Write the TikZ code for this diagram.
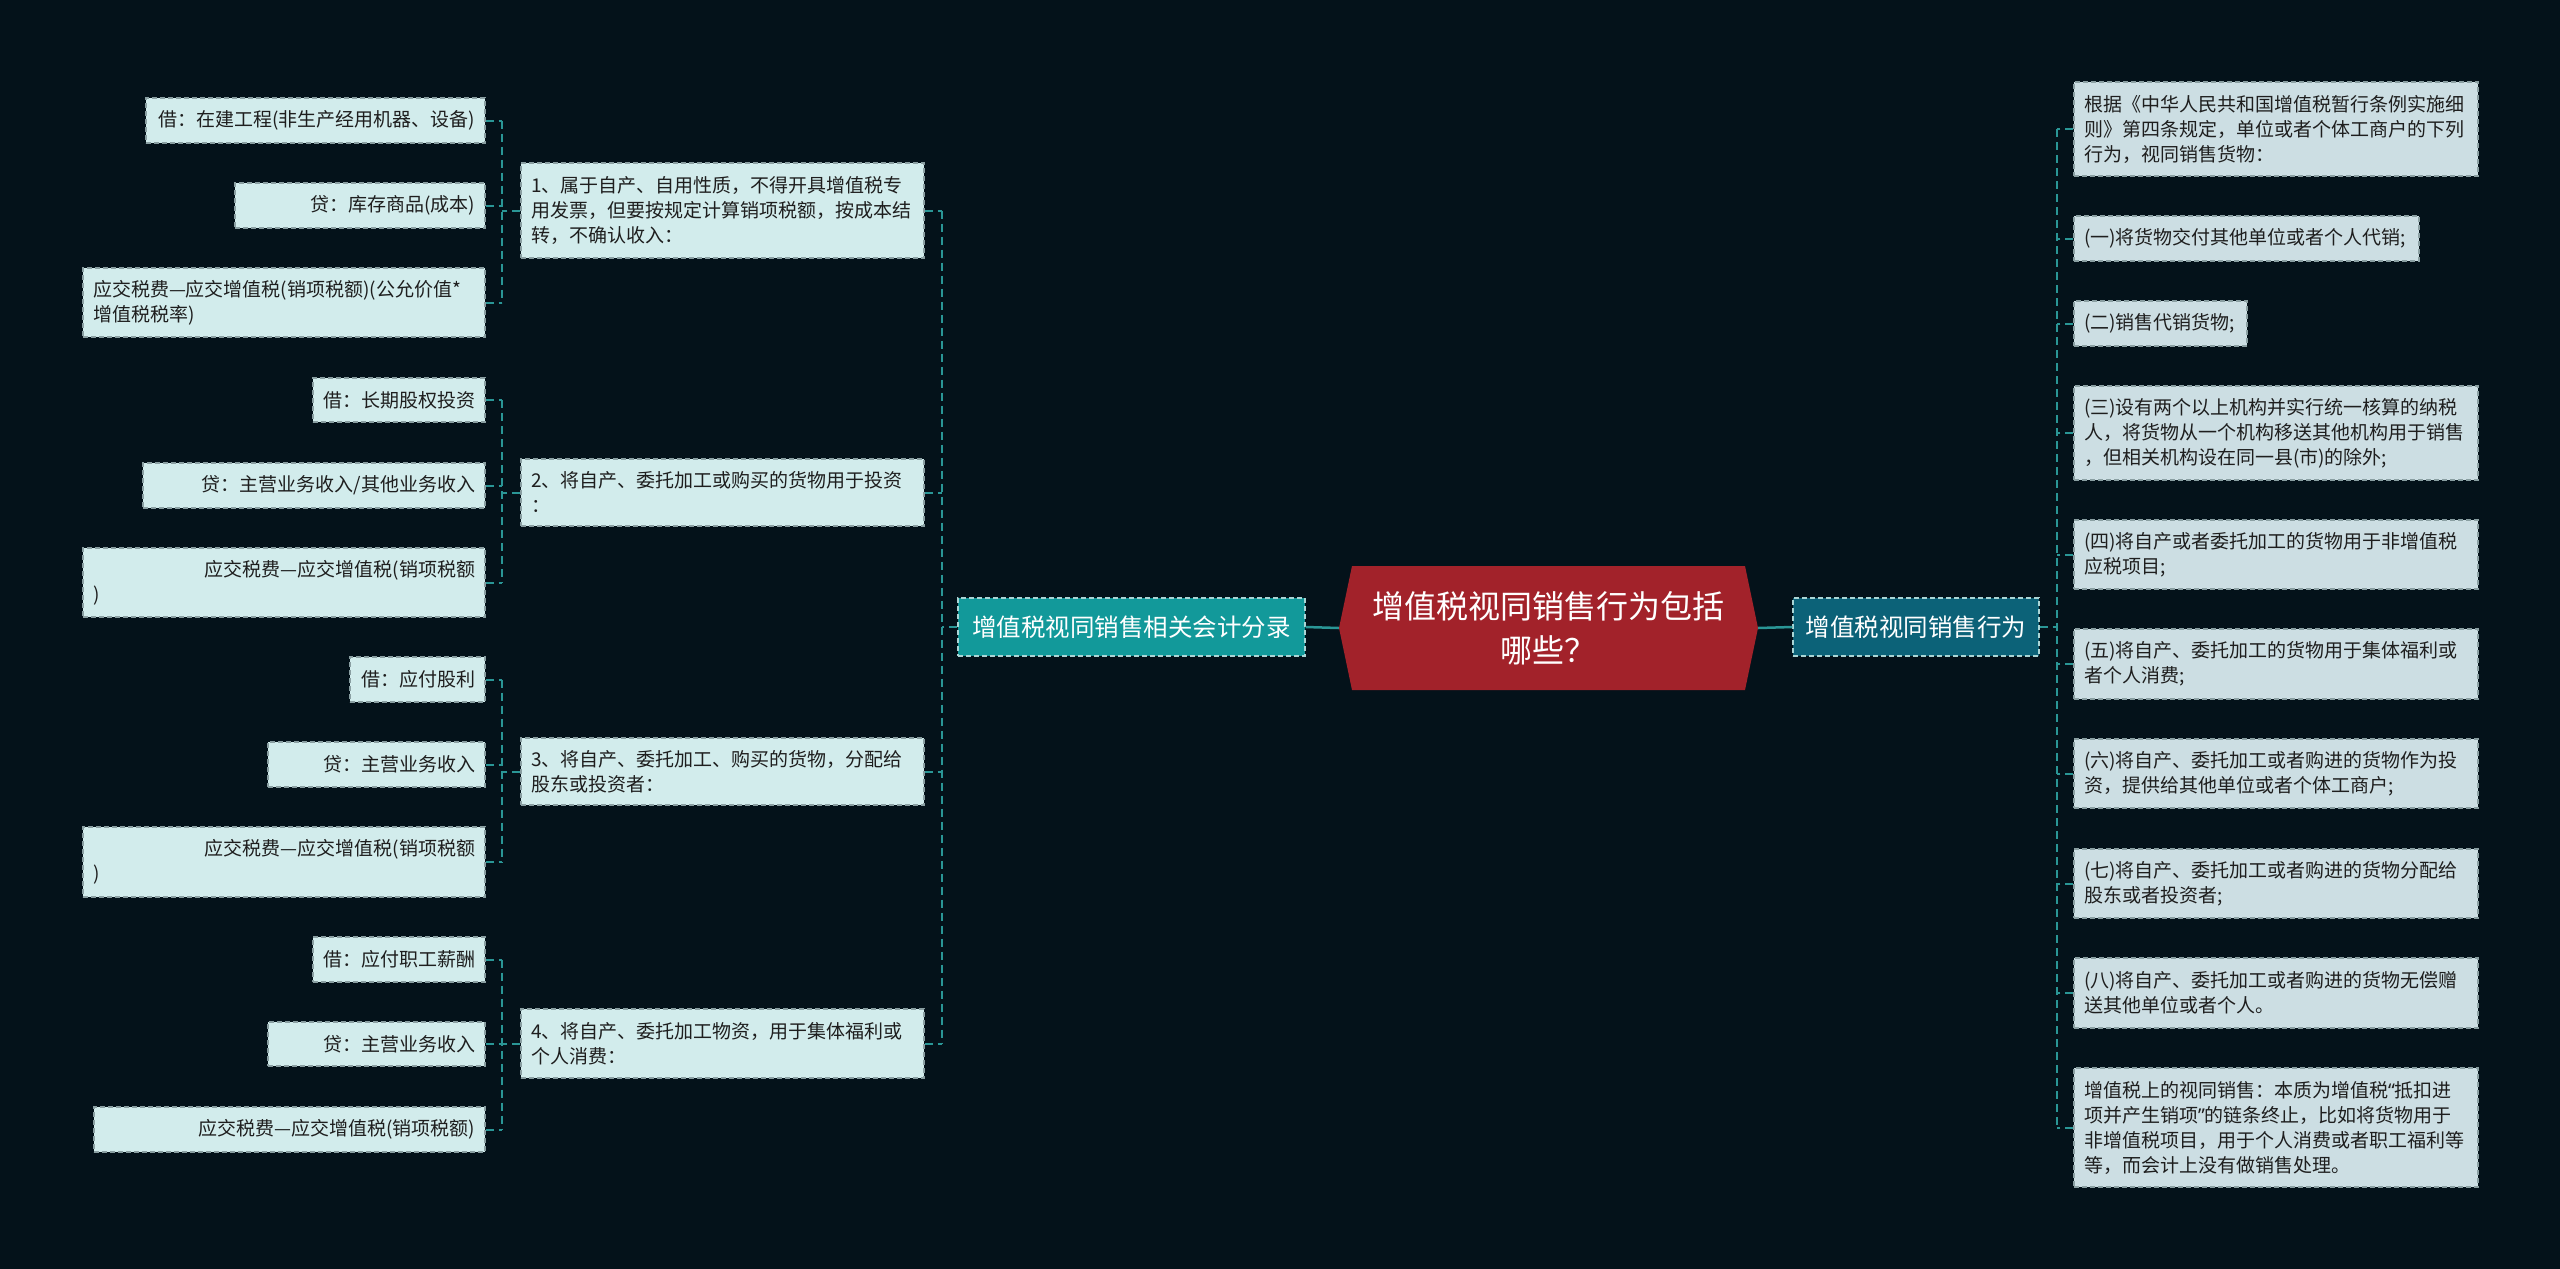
\documentclass[tikz,border=0pt]{standalone}
\usepackage{fontspec}
\setmainfont{Noto Sans CJK SC}
\newfontfamily\qf{Noto Sans}
\setlength{\parindent}{0pt}
\definecolor{bgc}{HTML}{04121A}
\definecolor{linec}{HTML}{2A9696}
\definecolor{leafc}{HTML}{D2ECEC}
\definecolor{rleafc}{HTML}{CCDEE3}
\definecolor{borderc}{HTML}{8A9FA2}
\definecolor{txtc}{HTML}{1E1E1E}
\definecolor{redc}{HTML}{A2222A}
\definecolor{lmainc}{HTML}{12999A}
\definecolor{rmainc}{HTML}{0C6278}
\newcommand\mybox[7]{%
 \pgfmathsetmacro\mywd{#5-#3-20}\pgfmathsetmacro\myht{#6-#4}%
 \pgfmathsetmacro\myxx{(#3+#5)/2}\pgfmathsetmacro\myyy{(#4+#6)/2}%
 \node[#2, text width=\mywd pt, minimum height=\myht pt] (#1) at (\myxx,\myyy) {#7};}
\tikzset{
 basebox/.style={draw=borderc, dashed, dash pattern=on 5pt off 3pt, line width=1.3pt, inner xsep=10pt, inner ysep=0pt, text=txtc, font=\fontsize{19}{25}\selectfont},
 leafbox/.style={basebox, fill=leafc, align=right},
 leafleft/.style={basebox, fill=leafc, align=left},
 groupbox/.style={basebox, fill=leafc, align=left},
 rbox/.style={basebox, fill=rleafc, align=left},
 conn/.style={draw=linec, line width=2pt, dash pattern=on 8pt off 5pt},
 solidconn/.style={draw=linec, line width=2.5pt},
 mainbox/.style={draw=white!60!linec, dashed, dash pattern=on 5pt off 3pt, line width=1.3pt, text=white, inner sep=0pt, font=\fontsize{24.5}{30}\selectfont, align=center}
}
\begin{document}
\begin{tikzpicture}[x=1pt,y=-1pt]
\useasboundingbox (0,0) rectangle (2560,1269);
\fill[bgc] (0,0) rectangle (2560,1269);
% center
\fill[redc] (1339,628) -- (1352,566) -- (1745,566) -- (1758,628) -- (1745,690) -- (1352,690) -- cycle;
\node[text=white, align=center, minimum width=419pt, minimum height=124pt, inner sep=0pt, font=\fontsize{32}{44}\selectfont] (center) at (1548.5,628) {增值税视同销售行为包括\\哪些？};
% main nodes
\node[mainbox, fill=lmainc, minimum width=347pt, minimum height=58pt] (lmain) at (1131.5,627) {增值税视同销售相关会计分录};
\node[mainbox, fill=rmainc, minimum width=246pt, minimum height=58pt] (rmain) at (1916,627) {增值税视同销售行为};
% groups
\mybox{g1}{groupbox}{521}{163}{924}{258}{1、属于自产、自用性质，不得开具增值税专\\用发票，但要按规定计算销项税额，按成本结\\转，不确认收入：}
\mybox{g2}{groupbox}{521}{459}{924}{526}{2、将自产、委托加工或购买的货物用于投资\\：}
\mybox{g3}{groupbox}{521}{738}{924}{805}{3、将自产、委托加工、购买的货物，分配给\\股东或投资者：}
\mybox{g4}{groupbox}{521}{1009}{924}{1078}{4、将自产、委托加工物资，用于集体福利或\\个人消费：}
% leaves
\mybox{l1a}{leafbox}{146}{98}{485}{143}{借：在建工程(非生产经用机器、设备)}
\mybox{l1b}{leafbox}{235}{183}{485}{228}{贷：库存商品(成本)}
\mybox{l1c}{leafleft}{83}{268}{485}{337}{应交税费—应交增值税(销项税额)(公允价值*\\增值税税率)}
\mybox{l2a}{leafbox}{313}{378}{485}{422}{借：长期股权投资}
\mybox{l2b}{leafbox}{143}{463}{485}{508}{贷：主营业务收入/其他业务收入}
\mybox{l2c}{leafleft}{83}{548}{485}{617}{\makebox[\hsize][r]{应交税费—应交增值税(销项税额}\\)}
\mybox{l3a}{leafbox}{350}{657}{485}{702}{借：应付股利}
\mybox{l3b}{leafbox}{268}{742}{485}{787}{贷：主营业务收入}
\mybox{l3c}{leafleft}{83}{827}{485}{897}{\makebox[\hsize][r]{应交税费—应交增值税(销项税额}\\)}
\mybox{l4a}{leafbox}{313}{937}{485}{982}{借：应付职工薪酬}
\mybox{l4b}{leafbox}{268}{1022}{485}{1066}{贷：主营业务收入}
\mybox{l4c}{leafbox}{94}{1107}{485}{1152}{应交税费—应交增值税(销项税额)}
% right
\mybox{r0}{rbox}{2074}{82}{2478}{176}{根据《中华人民共和国增值税暂行条例实施细\\则》第四条规定，单位或者个体工商户的下列\\行为，视同销售货物：}
\mybox{r1}{rbox}{2074}{216}{2419}{261}{(一)将货物交付其他单位或者个人代销;}
\mybox{r2}{rbox}{2074}{301}{2247}{346}{(二)销售代销货物;}
\mybox{r3}{rbox}{2074}{386}{2478}{480}{(三)设有两个以上机构并实行统一核算的纳税\\人，将货物从一个机构移送其他机构用于销售\\，但相关机构设在同一县(市)的除外;}
\mybox{r4}{rbox}{2074}{520}{2478}{589}{(四)将自产或者委托加工的货物用于非增值税\\应税项目;}
\mybox{r5}{rbox}{2074}{629}{2478}{699}{(五)将自产、委托加工的货物用于集体福利或\\者个人消费;}
\mybox{r6}{rbox}{2074}{739}{2478}{808}{(六)将自产、委托加工或者购进的货物作为投\\资，提供给其他单位或者个体工商户;}
\mybox{r7}{rbox}{2074}{849}{2478}{918}{(七)将自产、委托加工或者购进的货物分配给\\股东或者投资者;}
\mybox{r8}{rbox}{2074}{958}{2478}{1028}{(八)将自产、委托加工或者购进的货物无偿赠\\送其他单位或者个人。}
\mybox{r9}{rbox}{2074}{1068}{2478}{1187}{增值税上的视同销售：本质为增值税{\qf “}抵扣进\\项并产生销项{\qf ”}的链条终止，比如将货物用于\\非增值税项目，用于个人消费或者职工福利等\\等，而会计上没有做销售处理。}
% coordinates for spines
\coordinate (lvx) at (942,628);
\coordinate (gvx) at (502,628);
\coordinate (rvx) at (2057,628);
% center connectors
\draw[solidconn] (center.west) -- (lmain.east);
\draw[solidconn] (center.east) -- (rmain.west);
% left spine
\draw[conn] (lmain.west) -- (lmain.west -| lvx);
\draw[conn] (g1.east -| lvx) -- (g4.east -| lvx);
\foreach \g in {g1,g2,g3,g4}{\draw[conn] (\g.east) -- (\g.east -| lvx);}
% group spines
\foreach \g/\a/\b/\c in {g1/l1a/l1b/l1c, g2/l2a/l2b/l2c, g3/l3a/l3b/l3c, g4/l4a/l4b/l4c}{
 \draw[conn] (\g.west) -- (\g.west -| gvx);
 \draw[conn] (\a.east -| gvx) -- (\c.east -| gvx);
 \draw[conn] (\a.east) -- (\a.east -| gvx);
 \draw[conn] (\b.east) -- (\b.east -| gvx);
 \draw[conn] (\c.east) -- (\c.east -| gvx);
}
% right spine
\draw[conn] (rmain.east) -- (rmain.east -| rvx);
\draw[conn] (r0.west -| rvx) -- (r9.west -| rvx);
\foreach \r in {r0,r1,r2,r3,r4,r5,r6,r7,r8,r9}{\draw[conn] (\r.west) -- (\r.west -| rvx);}
\end{tikzpicture}
\end{document}
